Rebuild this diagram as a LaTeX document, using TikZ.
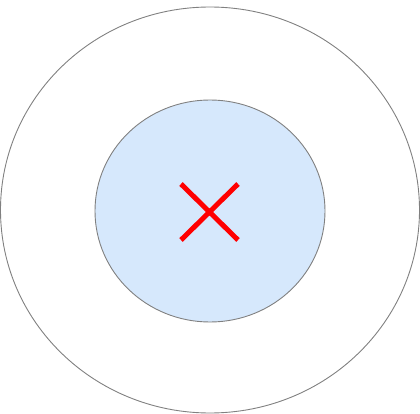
\documentclass[tikz,border=0pt]{standalone}
\usepackage{xcolor}
\usepackage{tikz}
\usetikzlibrary{calc}

\definecolor{ringgray}{RGB}{128,128,128}
\definecolor{corefill}{RGB}{214,232,252}
\definecolor{markred}{RGB}{255,0,0}

\begin{document}
\begin{tikzpicture}[
    x=1pt, y=-1pt,
    ring/.style={draw=ringgray, line width=0.9pt},
    core/.style={draw=ringgray, line width=0.9pt, fill=corefill},
    cross/.style={draw=markred, line width=5pt},
  ]
  \useasboundingbox (0,0) rectangle (420,414);
  \coordinate (c) at (210,210);
  % outer ring and inner disc
  \draw[ring] (c) ellipse [x radius=209.5, y radius=203];
  \draw[core] (210,211) ellipse [x radius=115, y radius=111];
  % red cross
  \draw[cross] (181,184) -- (238,240);
  \draw[cross] (238,184) -- (181,240);
\end{tikzpicture}
\end{document}
